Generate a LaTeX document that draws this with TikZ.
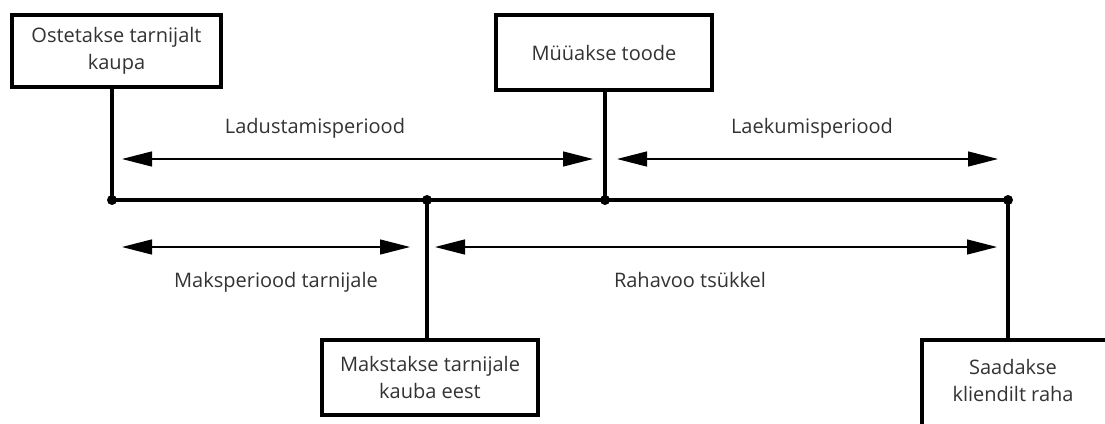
\documentclass[tikz,border=0pt]{standalone}
\usepackage{fontspec}
\setmainfont{Open Sans}
\usetikzlibrary{arrows.meta}
\begin{document}
\begin{tikzpicture}[x=1pt,y=-1pt,
  every node/.style={text=black!80},
  event/.style={draw=black,line width=3.5pt,rectangle,align=center,inner sep=0pt,
    font=\fontsize{20}{27}\selectfont},
  stem/.style={draw=black,line width=3.5pt},
  timeline/.style={draw=black,line width=3.5pt},
  period/.style={draw=black,line width=1.3pt,{Triangle[length=30pt,width=15pt]}-{Triangle[length=30pt,width=15pt]}},
  plabel/.style={font=\fontsize{20}{26}\selectfont},
  dot/.style={fill=black}]
\useasboundingbox (0,0) rectangle (1105,423);
\clip (0,0) rectangle (1105,423);
\fill[white] (0,0) rectangle (1105,423);

% events on the time line
\coordinate (t1) at (112,200);
\coordinate (t2) at (427,200);
\coordinate (t3) at (605,200);
\coordinate (t4) at (1008,200);

% event boxes
\node[event,minimum width=209pt,minimum height=72pt] (ost) at (116.5,51) {Ostetakse tarnijalt\\kaupa};
\node[event,minimum width=216pt,minimum height=75pt] (myy) at (604,52.5) {Müüakse toode};
\node[event,minimum width=216pt,minimum height=75pt] (mak) at (430,377.5) {Makstakse tarnijale\\kauba eest};
\node[event,minimum width=200pt,minimum height=110pt,anchor=north west] (saa) at (920,338) {};
\node[font=\fontsize{20}{27}\selectfont,align=center] (saatext) at (1013,380) {Saadakse\\kliendilt raha};

% main time line and stems
\draw[timeline] (t1) -- (t4);
\draw[stem] (t1) -- (t1 |- ost.south);
\draw[stem] (t3) -- (t3 |- myy.south);
\draw[stem] (t2) -- (t2 |- mak.north);
\draw[stem] (t4) -- (t4 |- saa.north);
\foreach \p in {t1,t2,t3,t4} \fill[dot] (\p) circle (5);

% periods
\coordinate (la) at (122,159);
\coordinate (lb) at (593,159);
\coordinate (ka) at (617,159);
\coordinate (kb) at (998,159);
\coordinate (ma) at (122,247);
\coordinate (mb) at (410,247);
\coordinate (ra) at (435,247);
\coordinate (rb) at (997,247);
\draw[period] (la) -- (lb);
\draw[period] (ka) -- (kb);
\draw[period] (ma) -- (mb);
\draw[period] (ra) -- (rb);

\node[plabel] (lad) at (315,128) {Ladustamisperiood};
\node[plabel] (lae) at (812,128) {Laekumisperiood};
\node[plabel] (mtp) at (276,282) {Maksperiood tarnijale};
\node[plabel] (rts) at (690,280) {Rahavoo tsükkel};
\end{tikzpicture}
\end{document}
